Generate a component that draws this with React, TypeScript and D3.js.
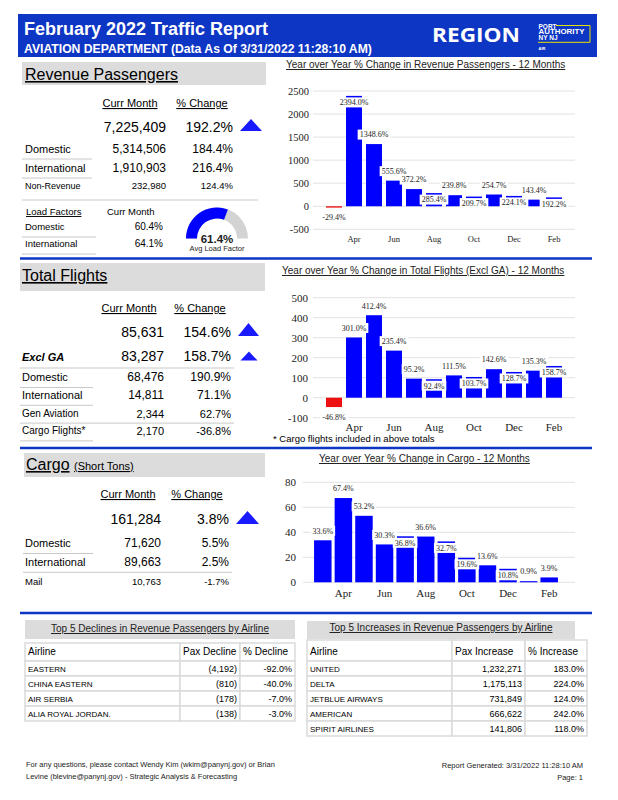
import React, { useRef, useEffect } from "react";
import * as d3 from "d3";

const W = 618;
const H = 800;
const SANS = "'Liberation Sans', Arial, sans-serif";
const SERIF = "'Liberation Serif', 'Times New Roman', serif";
const BLUE = "#0d36c4";
const BAR = "#0000ff";
const NEG = "#ee1111";

// 12 months of year over year % change
const months = ["Mar", "Apr", "May", "Jun", "Jul", "Aug", "Sep", "Oct", "Nov", "Dec", "Jan", "Feb"];
const axisMonths = ["Apr", "Jun", "Aug", "Oct", "Dec", "Feb"];
const paxChange = [-29.4, 2394.0, 1348.6, 555.6, 372.2, 285.4, 239.8, 209.7, 254.7, 224.1, 143.4, 192.2];
const flightChange = [-46.8, 301.0, 412.4, 235.4, 95.2, 92.4, 111.5, 103.7, 142.6, 128.7, 135.3, 158.7];
const cargoChange = [33.6, 67.4, 53.2, 30.3, 36.8, 36.6, 32.7, 19.6, 13.6, 10.8, 0.9, 3.9];
const paxTicks = [-500, 0, 500, 1000, 1500, 2000, 2500];
const flightTicks = [-100, 0, 100, 200, 300, 400, 500];
const cargoTicks = [0, 20, 40, 60, 80];

// summary blocks
const paxTotal = ["7,225,409", "192.2%"];
const paxRows = [
  ["Domestic", "5,314,506", "184.4%"],
  ["International", "1,910,903", "216.4%"],
];
const paxNonRevenue = ["Non-Revenue", "232,980", "124.4%"];
const loadFactors = [
  ["Domestic", "60.4%"],
  ["International", "64.1%"],
];
const avgLoadFactor = 61.4;

const flightTotal = ["85,631", "154.6%"];
const flightExclGA = ["Excl GA", "83,287", "158.7%"];
const flightRows = [
  ["Domestic", "68,476", "190.9%"],
  ["International", "14,811", "71.1%"],
  ["Gen Aviation", "2,344", "62.7%"],
  ["Cargo Flights*", "2,170", "-36.8%"],
];

const cargoTotal = ["161,284", "3.8%"];
const cargoRows = [
  ["Domestic", "71,620", "5.5%"],
  ["International", "89,663", "2.5%"],
  ["Mail", "10,763", "-1.7%"],
];

// airline tables
const declineAirlines = ["EASTERN", "CHINA EASTERN", "AIR SERBIA", "ALIA ROYAL JORDAN."];
const declinePax = [-4192, -810, -178, -138];
const declinePct = [-92.0, -40.0, -7.0, -3.0];
const increaseAirlines = ["UNITED", "DELTA", "JETBLUE AIRWAYS", "AMERICAN", "SPIRIT AIRLINES"];
const increasePax = [1232271, 1175113, 731849, 666622, 141806];
const increasePct = [183.0, 224.0, 124.0, 242.0, 118.0];

type Sel = d3.Selection<any, unknown, null, undefined>;

function txt(
  g: Sel,
  x: number,
  y: number,
  s: string,
  size: number,
  o: { anchor?: string; weight?: string; italic?: boolean; fill?: string; u?: boolean; family?: string } = {}
) {
  return g
    .append("text")
    .attr("x", x)
    .attr("y", y)
    .attr("text-anchor", o.anchor || "start")
    .style("font-family", o.family || SANS)
    .style("font-size", size + "px")
    .style("font-weight", o.weight || "normal")
    .style("font-style", o.italic ? "italic" : "normal")
    .style("text-decoration", o.u ? "underline" : "none")
    .style("fill", o.fill || "#000")
    .text(s);
}

function hline(g: Sel, x1: number, x2: number, y: number, color = "#c8c8c8", w = 1) {
  g.append("line").attr("x1", x1).attr("x2", x2).attr("y1", y).attr("y2", y).attr("stroke", color).attr("stroke-width", w);
}

function triangle(g: Sel, x1: number, x2: number, top: number, base: number) {
  g.append("polygon")
    .attr("points", `${x1},${base} ${(x1 + x2) / 2},${top} ${x2},${base}`)
    .attr("fill", "#1a1aff");
}

interface ChartCfg {
  values: number[];
  ticks: number[];
  domain: [number, number];
  yRange: [number, number];
  band: [number, number];
  padInner: number;
  gridX: [number, number];
  tickX: number;
  tickSize: number;
  xLabelY: number;
  xLabelSize: number;
  title: string;
  titleX: number;
  titleY: number;
}

function barChart(svg: Sel, c: ChartCfg) {
  const g = svg.append("g");
  const x = d3.scaleBand<string>().domain(months).range(c.band).paddingInner(c.padInner).paddingOuter(0.1);
  const y = d3.scaleLinear().domain(c.domain).range(c.yRange);

  txt(g, c.titleX, c.titleY, c.title, 10, { u: true, fill: "#222" });

  c.ticks.forEach((t) => {
    hline(g, c.gridX[0], c.gridX[1], y(t), "#e2e2e2", 1);
    txt(g, c.tickX, y(t) + c.tickSize * 0.35, String(t), c.tickSize, { anchor: "end", family: SERIF, fill: "#222" });
  });

  g.selectAll("rect.bar")
    .data(c.values)
    .join("rect")
    .attr("class", "bar")
    .attr("x", (_, i) => x(months[i])!)
    .attr("width", x.bandwidth())
    .attr("y", (d) => y(Math.max(0, d)))
    .attr("height", (d) => Math.abs(y(d) - y(0)))
    .attr("fill", (d) => (d < 0 ? NEG : BAR));

  // value labels: above the bar, or tucked inside its top if it would collide with the previous label
  const plotTop = Math.min(c.yRange[0], c.yRange[1]);
  let prev: number | null = null;
  c.values.forEach((v, i) => {
    const top = y(Math.max(0, v));
    const bottom = y(Math.min(0, v));
    let cy: number;
    if (v < 0) cy = bottom + 10;
    else {
      const above = top - 9.5;
      const blocked = above - 5 < plotTop || (prev !== null && Math.abs(prev - above) < 8.3);
      cy = blocked && bottom - top > 6 ? top + 6.5 : above;
    }
    prev = cy;
    const cx = x(months[i])! + x.bandwidth() / 2;
    const lg = g.append("g");
    const r = lg.append("rect").attr("fill", "#fff");
    const t = txt(lg, cx, cy + 2.8, v.toFixed(1) + "%", 8, { anchor: "middle", family: SERIF, fill: "#222" });
    const w = (t.node() as SVGTextElement).getComputedTextLength();
    r.attr("x", cx - w / 2 - 2).attr("y", cy - 5).attr("width", w + 4).attr("height", 10);
  });

  axisMonths.forEach((m) => {
    txt(g, x(m)! + x.bandwidth() / 2, c.xLabelY, m, c.xLabelSize, { anchor: "middle", family: SERIF, fill: "#222" });
  });
}

function sectionTitle(svg: Sel, x0: number, x1: number, y0: number, y1: number, label: string, tx: number, ty: number) {
  svg.append("rect").attr("x", x0).attr("y", y0).attr("width", x1 - x0).attr("height", y1 - y0).attr("fill", "#dcdcdc");
  return txt(svg, tx, ty, label, 16, { u: true });
}

function table(
  svg: Sel,
  cols: number[],
  headTop: number,
  rowTop: number,
  headers: string[],
  rows: string[][]
) {
  const rowH = 15;
  const cell = (x0: number, x1: number, y0: number, h: number) =>
    svg
      .append("rect")
      .attr("x", x0)
      .attr("y", y0)
      .attr("width", x1 - x0)
      .attr("height", h)
      .attr("fill", "#fff")
      .attr("stroke", "#dadada")
      .attr("stroke-width", 1.5);
  headers.forEach((h, j) => {
    cell(cols[j], cols[j + 1], headTop, rowTop - headTop);
    txt(svg, cols[j] + 3, rowTop - 6, h, 10);
  });
  rows.forEach((r, i) => {
    const y0 = rowTop + i * rowH;
    r.forEach((v, j) => {
      cell(cols[j], cols[j + 1], y0, rowH);
      if (j === 0) txt(svg, cols[j] + 3, y0 + 10.5, v, 8);
      else txt(svg, cols[j + 1] - 3, y0 + 10.5, v, 9, { anchor: "end" });
    });
  });
}

export default function App() {
  const ref = useRef<SVGSVGElement>(null);

  useEffect(() => {
    if (!ref.current) return;
    const svg = d3.select(ref.current) as unknown as Sel;
    svg.selectAll("*").remove();

    svg.append("rect").attr("width", W).attr("height", H).attr("fill", "#fff");

    // header band
    svg.append("rect").attr("x", 18).attr("y", 14).attr("width", 579).attr("height", 43).attr("fill", BLUE);
    txt(svg, 24, 35, "February 2022 Traffic Report", 18, { weight: "bold", fill: "#fff" });
    txt(svg, 24, 53, "AVIATION DEPARTMENT (Data As Of 3/31/2022 11:28:10 AM)", 12.2, { weight: "bold", fill: "#fff" });
    txt(svg, 432, 42, "REGION", 19, { weight: "bold", fill: "#fff", family: "'Open Sans', 'Liberation Sans', sans-serif" })
      .attr("textLength", 88)
      .attr("lengthAdjust", "spacingAndGlyphs");
    svg
      .append("polyline")
      .attr("points", "556,25.5 590,25.5 590,42.3 538,42.3")
      .attr("fill", "none")
      .attr("stroke", "#e6e000")
      .attr("stroke-width", 1);
    txt(svg, 538.5, 28.5, "PORT", 6.5, { weight: "bold", fill: "#fff" });
    txt(svg, 538.5, 34.2, "AUTHORITY", 6.5, { weight: "bold", fill: "#fff" })
      .attr("textLength", 46)
      .attr("lengthAdjust", "spacingAndGlyphs");
    txt(svg, 538.5, 39.8, "NY NJ", 6.5, { weight: "bold", fill: "#fff" });
    txt(svg, 538.5, 50, "AIR", 4, { weight: "bold", fill: "#fff" });

    // separators
    [258.5, 448, 613].forEach((yy) => hline(svg, 20, 592, yy, BLUE, 2.5));

    // ---- Revenue Passengers
    sectionTitle(svg, 22, 266, 62, 85, "Revenue Passengers", 25, 80);
    txt(svg, 130, 107, "Curr Month", 11, { anchor: "middle", u: true });
    txt(svg, 202, 107, "% Change", 11, { anchor: "middle", u: true });
    txt(svg, 166, 132, paxTotal[0], 14, { anchor: "end" });
    txt(svg, 233, 132, paxTotal[1], 14, { anchor: "end" });
    triangle(svg, 240, 262, 119, 131);
    paxRows.forEach((r, i) => {
      const yy = 153 + i * 19;
      txt(svg, 25, yy, r[0], 11);
      txt(svg, 166, yy, r[1], 12, { anchor: "end" });
      txt(svg, 233, yy, r[2], 12, { anchor: "end" });
      hline(svg, 22, 92, yy + 6);
    });
    txt(svg, 25, 189, paxNonRevenue[0], 9);
    txt(svg, 166, 189, paxNonRevenue[1], 9.5, { anchor: "end" });
    txt(svg, 233, 189, paxNonRevenue[2], 9.5, { anchor: "end" });
    hline(svg, 22, 258, 200);
    txt(svg, 26, 215, "Load Factors", 9.5, { u: true });
    txt(svg, 107, 215, "Curr Month", 9.5);
    loadFactors.forEach((r, i) => {
      const yy = 230 + i * 17;
      txt(svg, 25, yy, r[0], 9.5);
      txt(svg, 163, yy, r[1], 10, { anchor: "end" });
      hline(svg, 22, 96, yy + 7);
    });
    const gauge = svg.append("g").attr("transform", "translate(217,238.5)");
    const arc = d3.arc<any>().innerRadius(20).outerRadius(31);
    gauge.append("path").attr("d", arc({ startAngle: -Math.PI / 2, endAngle: Math.PI / 2 })).attr("fill", "#d3d3d3");
    gauge
      .append("path")
      .attr("d", arc({ startAngle: -Math.PI / 2, endAngle: -Math.PI / 2 + (Math.PI * avgLoadFactor) / 100 }))
      .attr("fill", "#0000ff");
    txt(svg, 217, 243, avgLoadFactor.toFixed(1) + "%", 11.5, { anchor: "middle", weight: "bold", fill: "#222" });
    txt(svg, 217, 251, "Avg Load Factor", 7.5, { anchor: "middle", fill: "#222" });

    // ---- Total Flights
    sectionTitle(svg, 20, 265, 263, 291, "Total Flights", 22, 281);
    txt(svg, 129, 312, "Curr Month", 11, { anchor: "middle", u: true });
    txt(svg, 200, 312, "% Change", 11, { anchor: "middle", u: true });
    txt(svg, 164, 337, flightTotal[0], 14, { anchor: "end" });
    txt(svg, 231, 337, flightTotal[1], 14, { anchor: "end" });
    triangle(svg, 238, 259, 323, 336);
    txt(svg, 22, 361, flightExclGA[0], 11, { weight: "bold", italic: true });
    txt(svg, 164, 361, flightExclGA[1], 14, { anchor: "end" });
    txt(svg, 231, 361, flightExclGA[2], 14, { anchor: "end" });
    triangle(svg, 240.5, 257.5, 351.5, 360.5);
    hline(svg, 20, 234, 368);
    flightRows.forEach((r, i) => {
      const yy = 381 + i * 17.8;
      const small = i >= 2;
      txt(svg, 22, yy, r[0], small ? 10 : 11);
      txt(svg, 164, yy + (small ? 1 : 0), r[1], small ? 11 : 12, { anchor: "end" });
      txt(svg, 231, yy + (small ? 1 : 0), r[2], small ? 11 : 12, { anchor: "end" });
      hline(svg, 20, i === 2 ? 234 : 93, yy + 6.5);
    });

    // ---- Cargo
    sectionTitle(svg, 24, 265, 453, 477, "Cargo", 26, 470);
    txt(svg, 74, 470, "(Short Tons)", 11, { u: true });
    txt(svg, 128, 498, "Curr Month", 11, { anchor: "middle", u: true });
    txt(svg, 197, 498, "% Change", 11, { anchor: "middle", u: true });
    txt(svg, 161, 524, cargoTotal[0], 14, { anchor: "end" });
    txt(svg, 229, 524, cargoTotal[1], 14, { anchor: "end" });
    triangle(svg, 236, 259, 511, 524);
    cargoRows.forEach((r, i) => {
      const yy = 547 + i * 18.8;
      const small = i === 2;
      txt(svg, 25, yy, r[0], small ? 9.5 : 11);
      txt(svg, 161, yy, r[1], small ? 9.5 : 12, { anchor: "end" });
      txt(svg, 229, yy, r[2], small ? 9.5 : 12, { anchor: "end" });
      if (i < 2) hline(svg, 23, i === 1 ? 232 : 93, yy + 6.5);
    });

    // ---- Charts
    barChart(svg, {
      values: paxChange,
      ticks: paxTicks,
      domain: [-500, 2500],
      yRange: [229.3, 91],
      band: [324, 564],
      padInner: 0.2,
      gridX: [313, 575],
      tickX: 309,
      tickSize: 10.5,
      xLabelY: 241.5,
      xLabelSize: 8.5,
      title: "Year over Year % Change in Revenue Passengers - 12 Months",
      titleX: 286,
      titleY: 68,
    });
    barChart(svg, {
      values: flightChange,
      ticks: flightTicks,
      domain: [-100, 500],
      yRange: [417.7, 297.7],
      band: [324, 564],
      padInner: 0.2,
      gridX: [313, 575],
      tickX: 308,
      tickSize: 11,
      xLabelY: 430.5,
      xLabelSize: 11,
      title: "Year over Year % Change in Total Flights (Excl GA) - 12 Months",
      titleX: 282,
      titleY: 274,
    });
    txt(svg, 273, 441.5, "* Cargo flights included in above totals", 9.5);
    barChart(svg, {
      values: cargoChange,
      ticks: cargoTicks,
      domain: [0, 80],
      yRange: [582.3, 482.3],
      band: [312, 560],
      padInner: 0.15,
      gridX: [303, 575],
      tickX: 296,
      tickSize: 11,
      xLabelY: 596.5,
      xLabelSize: 11,
      title: "Year over Year % Change in Cargo - 12 Months",
      titleX: 319,
      titleY: 462,
    });

    // ---- Airline tables
    const fmt = d3.format(",");
    svg.append("rect").attr("x", 25).attr("y", 620).attr("width", 270).attr("height", 19).attr("fill", "#dcdcdc");
    txt(svg, 160, 632, "Top 5 Declines in Revenue Passengers by Airline", 10, { anchor: "middle", u: true, fill: "#222" });
    table(
      svg,
      [25, 180, 240, 295],
      643,
      661,
      ["Airline", "Pax Decline", "% Decline"],
      declineAirlines.map((a, i) => [a, `(${fmt(-declinePax[i])})`, declinePct[i].toFixed(1) + "%"])
    );

    svg.append("rect").attr("x", 307).attr("y", 621).attr("width", 268).attr("height", 18).attr("fill", "#dcdcdc");
    txt(svg, 441, 631, "Top 5 Increases in Revenue Passengers by Airline", 10, { anchor: "middle", u: true, fill: "#222" });
    table(
      svg,
      [307, 452, 525, 587],
      640,
      661,
      ["Airline", "Pax Increase", "% Increase"],
      increaseAirlines.map((a, i) => [a, fmt(increasePax[i]), increasePct[i].toFixed(1) + "%"])
    );

    // ---- Footer
    txt(svg, 26, 767, "For any questions, please contact Wendy Kim (wkim@panynj.gov) or  Brian", 7.5, { fill: "#222" });
    txt(svg, 26, 779, "Levine (blevine@panynj.gov) - Strategic Analysis & Forecasting", 7.5, { fill: "#222" });
    txt(svg, 583, 768, "Report Generated: 3/31/2022 11:28:10 AM", 7.5, { anchor: "end", fill: "#222" });
    txt(svg, 583, 780, "Page: 1", 7.5, { anchor: "end", fill: "#222" });
  }, []);

  return (
    <svg
      ref={ref}
      width={W}
      height={H}
      viewBox={`0 0 ${W} ${H}`}
      style={{ position: "absolute", left: 0, top: 0, display: "block" }}
    />
  );
}
